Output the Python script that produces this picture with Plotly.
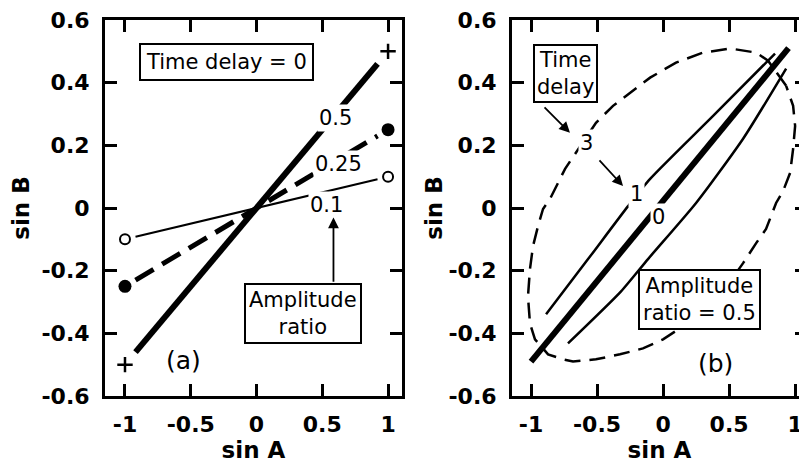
import plotly.graph_objects as go

# ---------------- data ----------------
# Panel (a): time delay = 0, three amplitude ratios (straight lines)
amp_labels = ["0.5", "0.25", "0.1"]
sinA_ends = [-1, 1]
sinB_ratio_05 = [-0.5, 0.5]
sinB_ratio_025 = [-0.25, 0.25]
sinB_ratio_01 = [-0.1, 0.1]

# Panel (b): amplitude ratio = 0.5, three time delays
delay0_sinA = [-1.0, 0.95]
delay0_sinB = [-0.49, 0.51]

delay1_sinA = [-0.886, -0.568, -0.265, -0.098, 0.379, 0.848, None,
               -0.720, -0.318, -0.114, 0.25, 0.606, 0.932]
delay1_sinB = [-0.339, -0.163, 0.006, 0.093, 0.294, 0.493, None,
               -0.432, -0.266, -0.163, 0.016, 0.221, 0.445]

delay3_sinA = [0.932, 0.795, 0.705, 0.508, 0.303, 0.098, -0.098, -0.25, -0.379,
               -0.508, -0.629, -0.742, -0.856, -0.909, -0.947, -0.985, -1.008,
               -1.023, -1.008, -0.970, -0.871, -0.758, -0.682, -0.508, -0.326,
               -0.152, 0.0, 0.265, 0.455, 0.606, 0.705, 0.780, 0.856, 0.909,
               0.962, 0.985, 1.0, 0.985, 0.932]
delay3_sinB = [0.390, 0.470, 0.496, 0.509, 0.496, 0.464, 0.416, 0.368, 0.326,
               0.272, 0.198, 0.125, 0.029, -0.003, -0.058, -0.122, -0.195,
               -0.282, -0.368, -0.419, -0.467, -0.483, -0.490, -0.483, -0.467,
               -0.448, -0.419, -0.346, -0.266, -0.176, -0.112, -0.067, 0.016,
               0.054, 0.112, 0.189, 0.262, 0.326, 0.390]

x_tickvals = [-1, -0.5, 0, 0.5, 1]
x_ticktext = ["-1", "-0.5", "0", "0.5", "1"]
y_tickvals = [-0.6, -0.4, -0.2, 0, 0.2, 0.4, 0.6]
y_ticktext = ["-0.6", "-0.4", "-0.2", "0", "0.2", "0.4", "0.6"]

FONT = "DejaVu Sans"
BLACK = "black"
shrink = 0.92  # lines stop just short of the end markers

fig = go.Figure()

# ---------- panel (a) ----------
def short(vals):
    return [v * shrink for v in vals]

fig.add_trace(go.Scatter(x=short(sinA_ends), y=short(sinB_ratio_05), mode="lines",
                         line=dict(color=BLACK, width=6), xaxis="x", yaxis="y",
                         showlegend=False, hoverinfo="skip"))
fig.add_trace(go.Scatter(x=short(sinA_ends), y=short(sinB_ratio_025), mode="lines",
                         line=dict(color=BLACK, width=5, dash="21px,10px"),
                         xaxis="x", yaxis="y", showlegend=False, hoverinfo="skip"))
fig.add_trace(go.Scatter(x=short(sinA_ends), y=short(sinB_ratio_01), mode="lines",
                         line=dict(color=BLACK, width=2), xaxis="x", yaxis="y",
                         showlegend=False, hoverinfo="skip"))
fig.add_trace(go.Scatter(x=sinA_ends, y=sinB_ratio_05, mode="markers",
                         marker=dict(symbol="cross-thin", size=11, color=BLACK,
                                     line=dict(color=BLACK, width=2.5)),
                         xaxis="x", yaxis="y", showlegend=False))
fig.add_trace(go.Scatter(x=sinA_ends, y=sinB_ratio_025, mode="markers",
                         marker=dict(symbol="circle", size=13, color=BLACK),
                         xaxis="x", yaxis="y", showlegend=False))
fig.add_trace(go.Scatter(x=sinA_ends, y=sinB_ratio_01, mode="markers",
                         marker=dict(symbol="circle-open", size=10, color=BLACK,
                                     line=dict(color=BLACK, width=2)),
                         xaxis="x", yaxis="y", showlegend=False))

# ---------- panel (b) ----------
fig.add_trace(go.Scatter(x=delay3_sinA, y=delay3_sinB, mode="lines",
                         line=dict(color=BLACK, width=2.5, dash="16px,9px"),
                         xaxis="x2", yaxis="y2", showlegend=False, hoverinfo="skip"))
fig.add_trace(go.Scatter(x=delay1_sinA, y=delay1_sinB, mode="lines",
                         line=dict(color=BLACK, width=2.5, shape="spline", smoothing=0.6),
                         xaxis="x2", yaxis="y2", showlegend=False, hoverinfo="skip",
                         connectgaps=False))
fig.add_trace(go.Scatter(x=delay0_sinA, y=delay0_sinB, mode="lines",
                         line=dict(color=BLACK, width=6),
                         xaxis="x2", yaxis="y2", showlegend=False, hoverinfo="skip"))

# ---------- axes ----------
tick_font = dict(family=FONT, size=22, color=BLACK, weight="bold")
title_font = dict(family=FONT, size=23, color=BLACK, weight="bold")
axis_common = dict(
    showline=True, linecolor=BLACK, linewidth=3, mirror="ticks",
    ticks="inside", ticklen=12, tickwidth=2.5, tickcolor=BLACK,
    showgrid=False, zeroline=False, tickfont=tick_font,
    ticklabeloverflow="allow",
)
xw = 702.0
fig.update_layout(
    xaxis=dict(domain=[0, 297 / xw], range=[-1.152, 1.106], anchor="y",
               tickvals=x_tickvals, ticktext=x_ticktext, ticklabelstandoff=7,
               title=dict(text="sin A", font=title_font, standoff=6),
               **axis_common),
    yaxis=dict(domain=[0, 1], range=[-0.6, 0.6], anchor="x",
               tickvals=y_tickvals, ticktext=y_ticktext, ticklabelstandoff=8,
               title=dict(text="sin B", font=title_font, standoff=6),
               **axis_common),
    xaxis2=dict(domain=[407 / xw, 1], range=[-1.144, 1.09], anchor="y2",
                tickvals=x_tickvals, ticktext=x_ticktext, ticklabelstandoff=7,
                title=dict(text="sin A", font=title_font, standoff=6),
                **axis_common),
    yaxis2=dict(domain=[0, 1], range=[-0.6, 0.6], anchor="x2",
                tickvals=y_tickvals, ticktext=y_ticktext, ticklabelstandoff=8,
                title=dict(text="sin B", font=title_font, standoff=0),
                **axis_common),
    # page body has an 8px margin: figure is 8px smaller and offset accordingly
    width=799, height=459,
    margin=dict(l=97, r=0, t=12, b=71, autoexpand=False),
    plot_bgcolor="white", paper_bgcolor="white",
)

tfont = dict(family=FONT, size=21, color=BLACK)
nfont = dict(family=FONT, size=21, color=BLACK)
ann = []
# panel (a) annotations
ann.append(dict(x=-0.228, y=0.467, xref="x", yref="y", text="Time delay = 0",
                showarrow=False, font=tfont, bordercolor=BLACK, borderwidth=2,
                borderpad=5, bgcolor="white"))
ann.append(dict(x=0.60, y=0.288, xref="x", yref="y", text=amp_labels[0], showarrow=False,
                font=nfont, bgcolor="white", borderpad=1))
ann.append(dict(x=0.624, y=0.141, xref="x", yref="y", text=amp_labels[1], showarrow=False,
                font=nfont, bgcolor="white", borderpad=1))
ann.append(dict(x=0.532, y=0.01, xref="x", yref="y", text=amp_labels[2], showarrow=False,
                font=nfont, bgcolor="white", borderpad=1))
ann.append(dict(x=0.35, y=-0.336, xref="x", yref="y", text="Amplitude<br>ratio",
                showarrow=False, font=tfont, bordercolor=BLACK, borderwidth=2,
                borderpad=3, bgcolor="white"))
ann.append(dict(x=0.585, y=-0.03, ax=0.585, ay=-0.24, xref="x", yref="y",
                axref="x", ayref="y", text="", showarrow=True, arrowhead=2,
                arrowsize=1.2, arrowwidth=1.8, arrowcolor=BLACK))
ann.append(dict(x=-0.555, y=-0.486, xref="x", yref="y", text="(a)", showarrow=False,
                font=dict(family=FONT, size=25, color=BLACK)))
# panel (b) annotations
ann.append(dict(x=-0.74, y=0.43, xref="x2", yref="y2", text="Time<br>delay",
                showarrow=False, font=tfont, bordercolor=BLACK, borderwidth=2,
                borderpad=2, bgcolor="white"))
ann.append(dict(x=-0.705, y=0.24, ax=-0.909, ay=0.326, xref="x2", yref="y2",
                axref="x2", ayref="y2", text="", showarrow=True, arrowhead=2,
                arrowsize=1.2, arrowwidth=1.8, arrowcolor=BLACK))
ann.append(dict(x=-0.583, y=0.208, xref="x2", yref="y2", text="3", showarrow=False,
                font=nfont, bgcolor="white", borderpad=1))
ann.append(dict(x=-0.303, y=0.07, ax=-0.492, ay=0.157, xref="x2", yref="y2",
                axref="x2", ayref="y2", text="", showarrow=True, arrowhead=2,
                arrowsize=1.2, arrowwidth=1.8, arrowcolor=BLACK))
ann.append(dict(x=-0.205, y=0.045, xref="x2", yref="y2", text="1", showarrow=False,
                font=nfont, bgcolor="white", borderpad=1))
ann.append(dict(x=-0.038, y=-0.029, xref="x2", yref="y2", text="0", showarrow=False,
                font=nfont, bgcolor="white", borderpad=1))
ann.append(dict(x=0.273, y=-0.291, xref="x2", yref="y2", text="Amplitude<br>ratio = 0.5",
                showarrow=False, font=tfont, bordercolor=BLACK, borderwidth=2,
                borderpad=3, bgcolor="white"))
ann.append(dict(x=0.394, y=-0.496, xref="x2", yref="y2", text="(b)", showarrow=False,
                font=dict(family=FONT, size=25, color=BLACK)))
fig.update_layout(annotations=ann)

fig.write_html("out.html")
